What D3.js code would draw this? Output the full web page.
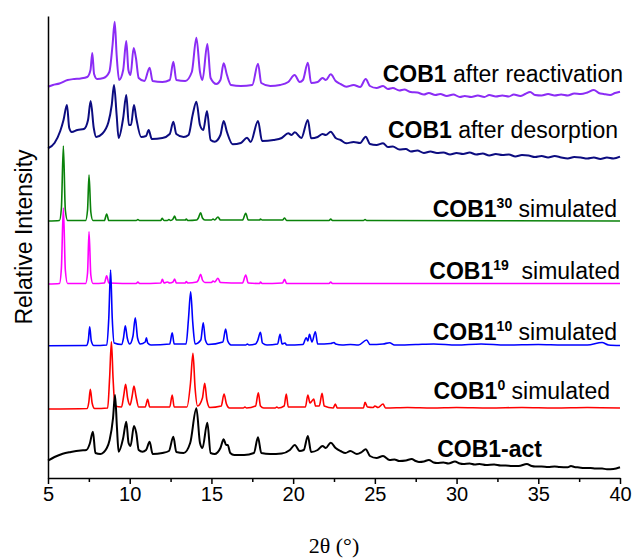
<!DOCTYPE html>
<html>
<head>
<meta charset="utf-8">
<script src="https://cdn.jsdelivr.net/npm/d3@7"></script>
<style>
body { margin: 0; background: #fff; }
text { font-family: "Liberation Sans", Arial, sans-serif; }
</style>
</head>
<body>
<svg id="svg"></svg>
<script>
var width = 635, height = 559;

// tick values for the 2theta axis
var majorTicks = [5, 10, 15, 20, 25, 30, 35, 40];
var minorTicks = [7.5, 12.5, 17.5, 22.5, 27.5, 32.5, 37.5];

// stacked intensities (a.u.), [2theta, intensity]
var reactivation = [[5.0,391.3],[5.3,393],[5.7,394.5],[6.2,398],[6.6,399],[7.0,399.5],[7.4,401],[7.6,408],[7.71,425],[7.82,404],[8.0,399],[8.4,400],[8.75,406],[8.95,433],[9.08,456.3],[9.2,423],[9.35,398],[9.6,408],[9.79,437],[9.92,408],[10.05,403],[10.24,430],[10.38,420],[10.55,400],[10.9,397],[11.22,410.3],[11.4,397],[12.0,396],[12.45,398],[12.67,416.3],[12.85,398],[13.4,397],[13.8,406],[14.08,440.3],[14.3,406],[14.45,398],[14.75,434],[14.95,400],[15.3,394],[15.55,398],[15.75,414.7],[15.95,403],[16.2,393],[16.8,392],[17.5,393],[17.85,414.3],[18.05,395],[18.6,392],[19.2,393],[19.7,396],[20.09,403],[20.4,396],[20.6,398],[20.9,415.3],[21.1,395],[21.5,396],[21.8,400],[22.0,398],[22.3,403.7],[22.6,397],[22.9,394],[23.25,391.3],[23.7,393],[24.1,391],[24.44,399],[24.7,392],[25.1,390],[25.5,392],[25.8,389],[26.1,390],[26.5,387.5],[26.8,388.5],[27.2,386],[27.6,385.5],[28.0,383.5],[28.3,385],[28.7,383],[29.0,384],[29.4,382],[29.8,383.5],[30.2,381],[30.5,382],[30.9,381],[31.3,382.5],[31.7,381],[32.0,383],[32.4,381.5],[32.8,382.5],[33.2,381.5],[33.5,383.5],[33.9,382],[34.2,384],[34.5,386],[34.8,383],[35.2,382.5],[35.6,384],[36.0,382.5],[36.4,383.5],[36.8,382.5],[37.2,384.5],[37.6,384],[38.0,385.5],[38.4,388],[38.7,385],[39.0,384],[39.4,383],[39.7,385],[40.0,386.3]];

var desorption = [[5.0,329.7],[5.4,335],[5.75,347],[5.95,358],[6.16,373],[6.3,350],[6.45,346],[6.8,348],[7.2,349],[7.45,358],[7.61,377],[7.8,350],[7.95,341],[8.3,344],[8.7,356],[8.9,373],[9.04,393],[9.2,363],[9.32,340],[9.6,360],[9.79,383],[9.95,353],[10.08,353],[10.26,373],[10.4,360],[10.7,341],[11.0,342],[11.16,348],[11.35,339],[12.0,340],[12.45,344],[12.67,356.3],[12.85,344],[13.3,341],[13.6,343],[13.85,363],[14.08,376.3],[14.3,353],[14.5,348],[14.73,367],[14.95,338],[15.2,336.3],[15.55,343],[15.75,357],[15.95,346],[16.3,333.7],[16.8,335],[17.18,340.3],[17.4,336],[17.85,357],[18.1,337],[18.8,338],[19.3,340],[19.7,344.7],[19.9,343],[20.1,345.7],[20.5,340],[20.9,358],[21.1,339.7],[21.5,341],[21.8,344],[22.0,343],[22.3,346.3],[22.6,340],[22.9,338],[23.25,334.7],[23.7,336],[24.1,335],[24.44,341.3],[24.7,334],[25.1,333],[25.5,334.7],[25.8,331],[26.1,331.5],[26.5,328.5],[26.9,329],[27.2,326.5],[27.6,327.5],[28.0,325],[28.4,326.5],[28.8,325],[29.2,325.5],[29.6,323.5],[30.0,325],[30.4,324],[30.8,325.5],[31.2,323.5],[31.6,324.5],[32.0,322.5],[32.4,324],[32.8,323],[33.2,323.5],[33.6,321.5],[34.0,323],[34.4,322.5],[34.8,321],[35.2,322],[35.6,320.5],[36.0,322],[36.4,320.5],[36.8,319.5],[37.2,321],[37.6,320.5],[38.0,319.5],[38.4,320.5],[38.8,319],[39.2,320.5],[39.6,319.5],[40.0,321.3]];

var sim30 = [[5.0,257],[5.7,257.5],[5.82,270],[5.94,332],[6.06,268],[6.2,257.5],[7.3,257.5],[7.42,268],[7.51,303],[7.62,266],[7.75,257.5],[8.45,257.5],[8.59,264],[8.72,257.5],[10.4,257.5],[10.5,258.5],[10.6,257.5],[11.9,257.5],[11.98,259.7],[12.1,257.5],[12.3,257.5],[12.4,258.5],[12.5,257.5],[12.65,259],[12.75,262],[12.85,258],[13.4,258],[13.46,259],[13.55,257.5],[14.1,258],[14.2,260],[14.34,265.3],[14.45,260],[14.6,258],[15.0,258],[15.1,259],[15.2,258],[15.4,261],[15.55,258],[16.9,258],[17.1,264.7],[17.25,258],[17.95,258],[18.0,259],[18.1,258],[19.35,258],[19.48,260],[19.6,257.5],[22.2,257.5],[22.3,259],[22.4,257.5],[24.3,257.5],[24.4,258.5],[24.5,257.5],[40.0,257]];

var sim19 = [[5.0,194],[5.7,194.5],[5.82,210],[5.94,270],[6.06,208],[6.2,194.5],[7.3,194.5],[7.42,205],[7.51,246.3],[7.62,203],[7.75,194.5],[8.45,195],[8.59,202.3],[8.72,195],[10.4,194.5],[10.5,196],[10.6,194.5],[11.9,195],[12.0,198.7],[12.1,195],[12.3,196],[12.45,195],[12.65,196],[12.75,199],[12.85,195],[13.4,195],[13.46,196.5],[13.55,195],[14.1,196],[14.2,198],[14.34,203.7],[14.45,198],[14.6,195.5],[15.0,195.5],[15.1,197],[15.2,196],[15.4,199.7],[15.55,195.5],[16.9,195],[17.1,203],[17.25,195],[17.95,194.5],[18.0,196],[18.1,194.5],[19.35,195],[19.48,198.7],[19.6,194.5],[22.2,194.5],[22.3,196],[22.4,194.5],[40.0,194.5]];

var sim10 = [[5.0,132.3],[7.35,132.5],[7.47,138],[7.55,151.3],[7.65,137],[7.8,132.5],[8.6,133],[8.72,160],[8.83,208],[8.93,160],[9.05,135],[9.5,133.5],[9.62,140],[9.73,152.3],[9.85,140],[10.0,134],[10.2,142],[10.34,160.3],[10.48,140],[10.65,134],[10.95,136],[11.02,140.3],[11.1,135],[11.3,133],[12.45,134],[12.6,145.3],[12.72,134],[13.45,134],[13.6,160],[13.73,186.3],[13.86,155],[14.0,134],[14.35,138],[14.5,155.3],[14.63,138],[14.8,133.5],[15.7,136],[15.87,149],[16.0,137],[16.2,133],[17.1,133],[17.2,134],[17.3,133],[17.7,134],[17.82,137],[18.0,145.7],[18.12,135],[18.4,133],[19.05,134],[19.2,143.7],[19.32,134],[19.5,135],[19.6,133],[20.6,133.5],[20.8,140.3],[20.9,137],[21.0,143.7],[21.15,136],[21.36,146.3],[21.5,134],[22.3,134.5],[22.5,135.5],[22.6,134],[23.0,133],[23.5,133.5],[24.0,133],[24.5,138],[24.7,133.5],[25.5,134],[25.9,135.3],[26.2,133],[27.5,133.5],[28.6,134],[30.0,133],[31.5,134],[33.0,133],[35.0,133.5],[36.5,133],[38.0,133],[38.9,135.5],[39.3,133],[40.0,132.5]];

var sim0 = [[5.0,69],[7.4,69.5],[7.5,76],[7.59,88.7],[7.7,75],[7.85,69.5],[8.65,70],[8.77,100],[8.88,136.3],[8.98,100],[9.1,72],[9.5,71],[9.63,82],[9.75,93.7],[9.87,80],[10.02,73],[10.15,82],[10.26,92],[10.38,82],[10.55,71],[10.95,71],[11.1,78.7],[11.22,71],[12.45,71],[12.6,83],[12.72,71],[13.5,71],[13.72,95],[13.87,124.7],[14.0,90],[14.15,72],[14.45,80],[14.59,94.7],[14.72,78],[14.9,70.5],[15.6,72],[15.77,84],[15.92,74],[16.1,70],[16.95,70],[17.05,71],[17.15,70],[17.7,72],[17.87,85.3],[18.0,72],[18.2,70],[18.9,70],[19.0,71],[19.1,70],[19.45,72],[19.58,84],[19.7,71],[20.75,71],[20.9,83],[21.03,75],[21.15,77],[21.26,79],[21.37,72],[21.6,72],[21.77,84.7],[21.9,72],[22.45,70],[22.58,74],[22.7,70],[24.3,70],[24.4,75.7],[24.55,71],[24.9,70.5],[25.0,72],[25.2,70.5],[25.5,74],[25.65,70],[27.0,70.5],[28.5,70],[30.0,70.5],[32.0,70],[34.0,70.5],[36.0,70],[38.0,70.5],[40.0,70]];

var act = [[5.0,17.3],[5.4,21],[5.9,24.3],[6.4,26],[7.0,27.5],[7.35,28],[7.55,34],[7.75,46.3],[7.9,25],[8.2,24],[8.6,30],[8.77,38],[8.98,60],[9.1,83],[9.22,50],[9.32,26.3],[9.6,40],[9.79,56.3],[9.93,35],[10.05,32],[10.26,52],[10.4,45],[10.55,28],[10.78,26.3],[11.0,28],[11.22,36.3],[11.4,24],[12.0,25],[12.4,27],[12.67,41.3],[12.85,26],[13.3,25],[13.7,35],[14.08,69.7],[14.3,35],[14.45,30],[14.75,55.3],[14.95,25],[15.2,24],[15.55,30],[15.75,38.7],[15.9,33],[16.0,33],[16.15,25],[16.4,23],[17.0,23],[17.6,25],[17.85,40.7],[18.05,25],[18.6,24],[19.3,24.5],[19.8,28],[20.1,33],[20.4,27],[20.65,28],[20.9,42],[21.1,26],[21.5,28],[21.8,32],[22.0,30],[22.3,35.3],[22.6,30],[22.9,27],[23.2,25],[23.5,27],[23.9,24],[24.2,26],[24.44,28.7],[24.7,22],[25.1,20],[25.5,22],[25.9,18],[26.2,18.5],[26.5,17],[26.9,17.5],[27.25,19],[27.5,17],[27.7,16],[28.0,16.5],[28.3,18],[28.6,15.5],[28.8,15],[29.2,15.5],[29.5,14.5],[29.9,16.5],[30.2,14.5],[30.4,14],[30.8,14.5],[31.1,13.5],[31.4,14],[31.8,13],[32.3,13.5],[32.7,12.5],[33.0,12.5],[33.4,12],[33.8,12],[34.3,14],[34.6,12],[34.8,11.5],[35.2,11.5],[35.6,11],[36.0,11.5],[36.3,11],[36.8,10.7],[37.0,12],[37.2,11],[37.5,10.5],[37.8,10],[38.2,10],[38.5,9.5],[38.9,9.5],[39.2,8.7],[39.6,9],[40.0,10.7]];

var series = [reactivation, desorption, sim30, sim19, sim10, sim0, act];
var colors = ["#8b2cf5", "#0c0c80", "#0a820a", "#ff00ff", "#0000ff", "#ff0000", "#000000"];
var widths = [2, 2, 1.6, 1.6, 1.6, 1.6, 2];

// label pieces: [bold, superscript, rest]
var labels = [
	["COB1", "", " after reactivation"],
	["COB1", "", " after desorption"],
	["COB1", "30", " simulated"],
	["COB1", "19", "  simulated"],
	["COB1", "10", " simulated"],
	["COB1", "0", " simulated"],
	["COB1-act", "", ""]
];
var labelX = [623, 618, 617, 620, 617, 610, 542];
var labelY = [82, 138, 217, 279, 340, 399, 457];

var svg = d3.select("#svg")
	.attr("width", width)
	.attr("height", height);

var x = d3.scaleLinear()
	.domain([5, 40])
	.range([48, 620]);

var y = d3.scaleLinear()
	.domain([0, 462])
	.range([478, 16]);

var lineGenerator = d3.line()
	.curve(d3.curveMonotoneX)
	.x(function(d) { return x(d[0]); })
	.y(function(d) { return y(d[1]); });

for (var i in series)
{
	svg.append("path")
		.attr("fill", "none")
		.attr("stroke", colors[i])
		.attr("stroke-width", widths[i])
		.attr("stroke-linejoin", "round")
		.attr("d", lineGenerator(series[i]));
}

// labels
for (var i in labels)
{
	var t = svg.append("text")
		.attr("x", labelX[i])
		.attr("y", labelY[i])
		.attr("text-anchor", "end")
		.attr("font-size", "23px")
		.attr("fill", "#000")
		.attr("xml:space", "preserve");
	t.append("tspan").attr("font-weight", "bold").text(labels[i][0]);
	if (labels[i][1] != "")
		t.append("tspan")
			.attr("font-size", "14px")
			.attr("font-weight", "bold")
			.attr("dy", -9)
			.text(labels[i][1]);
	if (labels[i][2] != "")
		t.append("tspan")
			.attr("dy", labels[i][1] != "" ? 9 : 0)
			.text(labels[i][2]);
}

// axes
var xAxis = d3.axisBottom(x)
	.tickValues(majorTicks)
	.tickFormat(d3.format("d"))
	.tickSize(6)
	.tickSizeOuter(0);
var xMinor = d3.axisBottom(x)
	.tickValues(minorTicks)
	.tickFormat("")
	.tickSize(4)
	.tickSizeOuter(0);

var gx = svg.append("g")
	.attr("transform", "translate(0,478)")
	.call(xAxis);
gx.selectAll("text")
	.attr("font-size", "20px")
	.attr("font-family", "Liberation Sans, Arial, sans-serif")
	.attr("fill", "#000");
gx.selectAll("path, line").attr("stroke", "#000").attr("stroke-width", 1.5);

var gm = svg.append("g")
	.attr("transform", "translate(0,478)")
	.call(xMinor);
gm.select(".domain").remove();
gm.selectAll("line").attr("stroke", "#000").attr("stroke-width", 1.5);

var yAxis = d3.axisLeft(y)
	.tickValues([])
	.tickSizeOuter(0);
svg.append("g")
	.attr("transform", "translate(48,0)")
	.call(yAxis)
	.selectAll("path").attr("stroke", "#000").attr("stroke-width", 1.5);

svg.append("text")
	.attr("transform", "translate(32,237) rotate(-90)")
	.attr("text-anchor", "middle")
	.attr("font-size", "23px")
	.attr("fill", "#000")
	.text("Relative Intensity");

svg.append("text")
	.attr("x", 334)
	.attr("y", 553)
	.attr("text-anchor", "middle")
	.attr("font-size", "22px")
	.style("font-family", "Liberation Serif, Times New Roman, serif")
	.attr("fill", "#000")
	.text("2θ (°)");
</script>
</body>
</html>
